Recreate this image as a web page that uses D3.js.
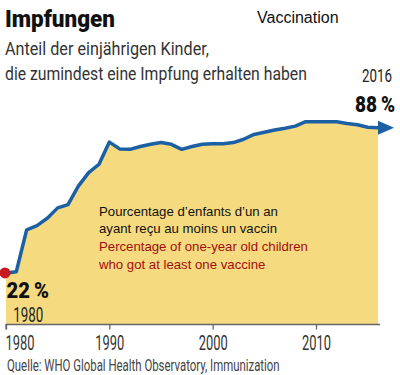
<!DOCTYPE html>
<html>
<head>
<meta charset="utf-8">
<script src="https://cdn.jsdelivr.net/npm/d3@7"></script>
<style>
  body { margin: 0; background: #fff; }
  svg text { font-family: Roboto, "Liberation Sans", sans-serif; }
  svg text.latin { font-family: "Liberation Sans", Arial, sans-serif; }
</style>
</head>
<body>
<svg id="chart"></svg>
<script>
// WHO: share of one-year-olds with at least one vaccine (%)
const years = d3.range(1980, 2017);
const coverage = [
  22, 22.6, 41.7, 43.6, 47, 51.7, 53.2, 61.6, 67.8, 71.6,
  81.7, 78.6, 78.4, 79.7, 80.7, 81.5, 80.7, 78.4, 79.7, 80.7,
  81, 81, 81.5, 83, 85.2, 86.2, 87.2, 88, 89, 91,
  91, 91, 91, 90.2, 89.6, 88.5, 88.3
];
const tickYears = [1980, 1990, 2000, 2010];
const startLabel = { value: "22\u2009%", year: "1980" };
const endLabel = { value: "88\u2009%", year: "2016" };
const title = "Impfungen";
const titleEn = "Vaccination";
const subtitle = ["Anteil der einjährigen Kinder,", "die zumindest eine Impfung erhalten haben"];
const noteFr = ["Pourcentage d\u2019enfants d\u2019un an", "ayant reçu au moins un vaccin"];
const noteEn = ["Percentage of one-year old children", "who got at least one vaccine"];
const source = "Quelle: WHO Global Health Observatory, Immunization";

const data = years.map((y, i) => ({ year: y, value: coverage[i] }));

const width = 400, height = 375;
const baseY = 324.5;

const svg = d3.select("#chart").attr("width", width).attr("height", height);

const x = d3.scaleLinear().domain([1980, 2016]).range([6, 378]);
const y = d3.scaleLinear().domain([0, 100]).range([321.2, 102]);

// condensed text: squeeze the glyphs horizontally to the width the original font takes
function squeeze(sel, len) {
  sel.each(function() {
    const w = this.getComputedTextLength();
    const t = d3.select(this);
    const px = +t.attr("x") || 0, py = +t.attr("y") || 0;
    t.attr("x", 0).attr("y", 0)
      .attr("transform", `translate(${px},${py}) scale(${len / w},1)`);
  });
}

function label(txt, px, py, size, len, opts = {}) {
  const t = svg.append("text")
    .attr("x", px).attr("y", py)
    .attr("font-size", size)
    .attr("font-weight", opts.weight || null)
    .attr("text-anchor", opts.anchor || "start")
    .attr("fill", opts.fill || "#222")
    .text(txt);
  squeeze(t, len);
  return t;
}

// area
svg.append("path")
  .datum(data)
  .attr("fill", "#f6da80")
  .attr("d", d3.area().x(d => x(d.year)).y0(baseY).y1(d => y(d.value)));

// axis
const axis = svg.append("g")
  .attr("transform", `translate(0,${baseY})`)
  .call(d3.axisBottom(x).tickValues(tickYears).tickFormat(d3.format("d")).tickSize(5).tickPadding(6))
  .call(g => g.select(".domain").attr("stroke", "#666").attr("stroke-width", 1.3)
      .attr("d", `M${x(1980)},5V0H${x(2016) + 2}`));
axis.selectAll(".tick line").attr("stroke", "#666").attr("stroke-width", 1.3);
axis.selectAll(".tick text")
  .attr("fill", "#333")
  .attr("font-size", 21)
  .attr("font-family", null)
  .attr("dy", "0.68em")
  .attr("text-anchor", d => d === 1980 ? "start" : "middle")
  .attr("x", d => d === 1980 ? -1 : 0)
  .call(squeeze, 29);

// line
const last = data[data.length - 1];
svg.append("path")
  .datum(data)
  .attr("fill", "none")
  .attr("stroke", "#1b5fa5")
  .attr("stroke-width", 3.5)
  .attr("stroke-linejoin", "round")
  .attr("d", d3.line().x(d => x(d.year)).y(d => y(d.value)));

// arrow head
svg.append("path")
  .attr("fill", "#1b5fa5")
  .attr("d", `M${x(last.year)},${y(last.value) - 7}L${x(last.year) + 16},${y(last.value)}L${x(last.year)},${y(last.value) + 7}Z`);

// start point
svg.append("circle")
  .attr("cx", x(data[0].year) - 1)
  .attr("cy", y(data[0].value))
  .attr("r", 5.5)
  .attr("fill", "#c81a1f");

// titles
label(title, 5, 27, 24.5, 110, { weight: 900, fill: "#111" });
svg.append("text").attr("class", "latin").attr("x", 257).attr("y", 23)
  .attr("font-size", 16).attr("fill", "#111")
  .text(titleEn);
label(subtitle[0], 5, 55, 18, 204, { fill: "#333" });
label(subtitle[1], 5, 80, 18, 302, { fill: "#333" });

// end / start labels
label(endLabel.year, 392, 81.5, 19, 30, { anchor: "end" });
label(endLabel.value, 395, 111.5, 21.5, 40, { anchor: "end", weight: 900, fill: "#111" });
label(startLabel.value, 6.5, 297.5, 21.5, 42.5, { weight: 900, fill: "#111" });
label(startLabel.year, 13.3, 321.7, 20, 30);

// note
noteFr.concat(noteEn).forEach((t, i) => {
  svg.append("text").attr("class", "latin")
    .attr("x", 99).attr("y", 215.5 + i * 17.7)
    .attr("font-size", 13.2)
    .attr("fill", i < 2 ? "#111" : "#a30d10")
    .text(t);
});

// source
label(source, 7, 371, 16, 273, { fill: "#444" });
</script>
</body>
</html>
